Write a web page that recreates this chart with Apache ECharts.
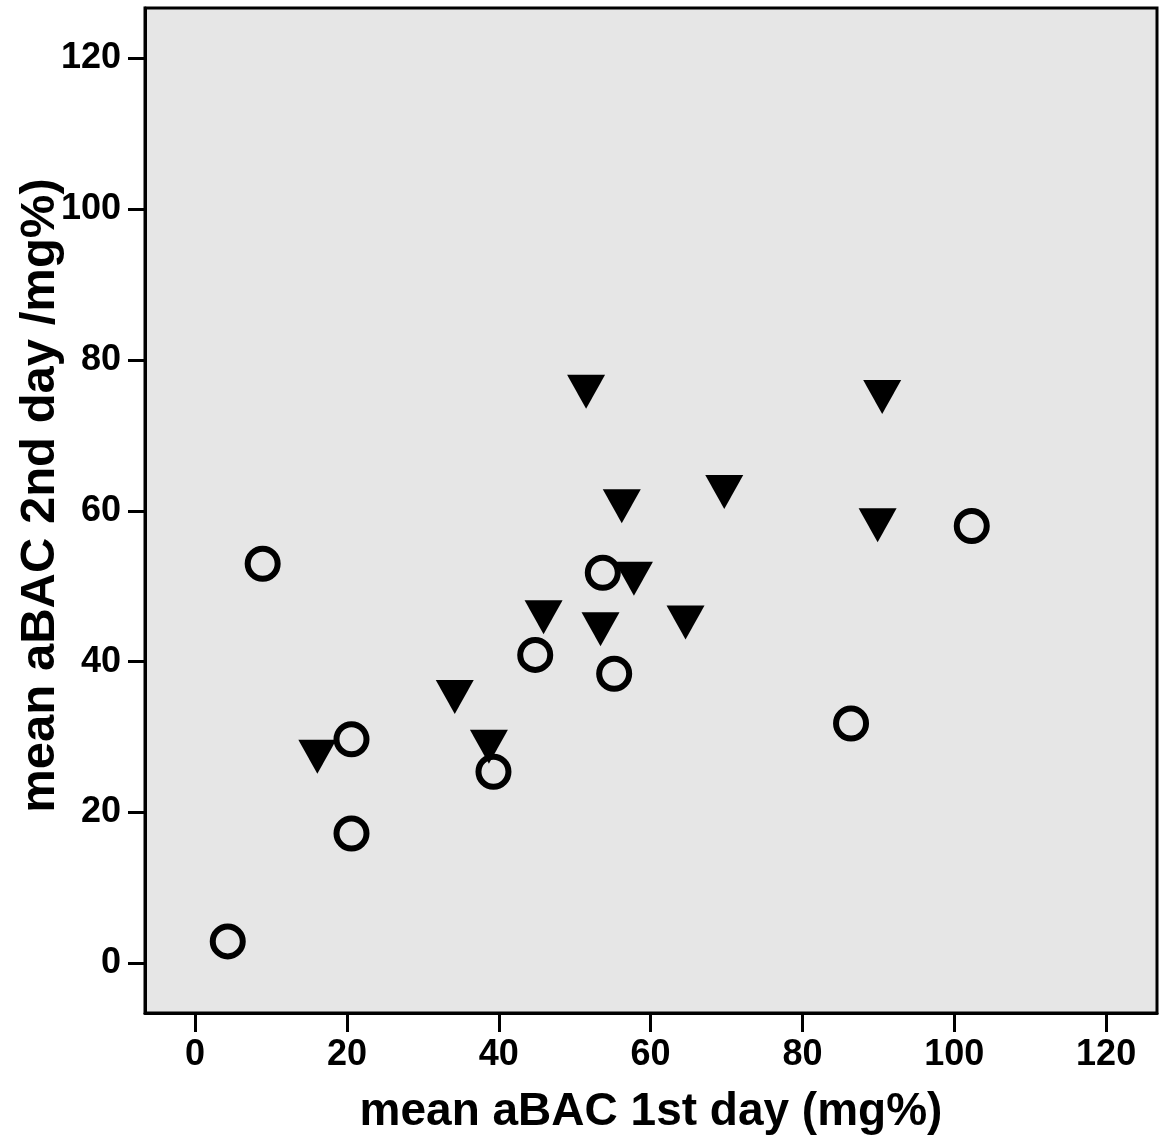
<!DOCTYPE html>
<html>
<head>
<meta charset="utf-8">
<script src="https://cdn.jsdelivr.net/npm/echarts@6/dist/echarts.min.js"></script>
<style>
html,body{margin:0;padding:0;background:#fff;}
#chart{width:1162px;height:1142px;}
</style>
</head>
<body>
<div id="chart"></div>
<script>
// Open circles group: [1st day, 2nd day]
const circleX = [4.3, 8.9, 20.6, 20.6, 39.3, 44.8, 53.7, 55.2, 86.4, 102.3];
const circleY = [2.9, 53.0, 29.7, 17.2, 25.4, 40.9, 51.8, 38.4, 31.8, 58.0];
// Filled down-triangles group
const triX = [51.5, 90.5, 69.7, 56.2, 89.9, 57.8, 45.9, 53.4, 64.6, 34.2, 38.7, 16.1];
const triY = [75.8, 75.1, 62.5, 60.6, 58.1, 51.0, 45.9, 44.3, 45.2, 35.3, 28.7, 27.4];
const tickValues = [0, 20, 40, 60, 80, 100, 120];
const xTitle = 'mean aBAC 1st day (mg%)';
const yTitle = 'mean aBAC 2nd day /mg%)';

const circleData = circleX.map((x, i) => [x, circleY[i]]);
const triData = triX.map((x, i) => [x, triY[i]]);

const FONT = '"Liberation Sans", Arial, sans-serif';
const chart = echarts.init(document.getElementById('chart'));
const labelStyle = {
  customValues: tickValues,
  color: '#000',
  fontFamily: FONT,
  fontWeight: 'bold',
  fontSize: 36,
  margin: 24
};
const axisCommon = {
  type: 'value',
  min: -6.6,
  max: 126.7,
  splitLine: { show: false },
  axisLine: { show: true, onZero: false, lineStyle: { color: '#000', width: 3 } },
  nameLocation: 'middle',
  nameMoveOverlap: false
};
chart.setOption({
  animation: false,
  backgroundColor: '#fff',
  grid: {
    left: 145, right: 5, top: 8, bottom: 129,
    outerBoundsMode: 'none',
    containLabel: false,
    show: true,
    backgroundColor: '#e6e6e6',
    borderColor: '#000',
    borderWidth: 3
  },
  xAxis: Object.assign({}, axisCommon, {
    name: xTitle,
    nameGap: 76,
    nameTextStyle: { color: '#000', fontFamily: FONT, fontWeight: 'bold', fontSize: 46 },
    axisTick: { show: true, inside: false, length: 19, customValues: tickValues, lineStyle: { color: '#000', width: 3 } },
    axisLabel: labelStyle
  }),
  yAxis: Object.assign({}, axisCommon, {
    name: yTitle,
    nameGap: 80,
    nameTextStyle: { color: '#000', fontFamily: FONT, fontWeight: 'bold', fontSize: 49, padding: [0, 0, 0, 30] },
    axisTick: { show: true, inside: false, length: 17, customValues: tickValues, lineStyle: { color: '#000', width: 3 } },
    axisLabel: labelStyle
  }),
  series: [
    {
      type: 'scatter',
      data: circleData,
      symbol: 'circle',
      symbolSize: 30,
      itemStyle: { color: 'rgba(0,0,0,0)', borderColor: '#000', borderWidth: 6, opacity: 1 },
      z: 2
    },
    {
      type: 'scatter',
      data: triData,
      symbol: 'triangle',
      symbolSize: [38, 34],
      symbolRotate: 180,
      itemStyle: { color: '#000', opacity: 1 },
      z: 3
    }
  ]
});
</script>
</body>
</html>
